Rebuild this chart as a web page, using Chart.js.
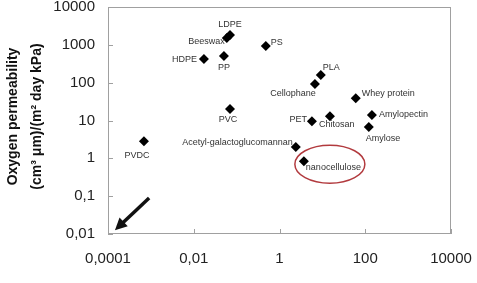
<!DOCTYPE html>
<html lang="en">

<head>
    <meta charset="UTF-8">
    <script src="https://cdn.jsdelivr.net/npm/chart.js"></script>
    <title>Oxygen permeability</title>
    <style>
        html, body {
            margin: 0;
            padding: 0;
            background: #ffffff;
        }

        .chart-box {
            position: relative;
            width: 477px;
            height: 283px;
        }
    </style>
</head>

<body>
    <div class="chart-box">
        <canvas id="permChart" width="477" height="283"></canvas>
    </div>
    <script>
        // dados
        const materials = ['LDPE', 'Beeswax', 'HDPE', 'PP', 'PVC', 'PS', 'PLA', 'Cellophane', 'Whey protein',
            'PET', 'Chitosan', 'Amylopectin', 'Amylose', 'PVDC', 'Acetyl-galactoglucomannan', 'nanocellulose'];
        const xValues = [0.070, 0.059, 0.0173, 0.0506, 0.070, 0.48, 9.2, 6.7, 60,
            5.7, 15, 143, 121, 0.00069, 2.4, 3.7];
        const oxygenPerm = [1820, 1510, 421, 506, 20, 930, 159, 92, 39,
            9.6, 13, 14, 6.7, 2.85, 1.98, 0.84];

        const xTickValues = [0.0001, 0.01, 1, 100, 10000];
        const xTickLabels = ['0,0001', '0,01', '1', '100', '10000'];
        const yTickValues = [0.01, 0.1, 1, 10, 100, 1000, 10000];
        const yTickLabels = ['0,01', '0,1', '1', '10', '100', '1000', '10000'];

        const yTitleLines = ['Oxygen permeability', '(cm³ μm)/(m² day kPa)'];

        // posição de cada rótulo em relação ao ponto
        const labelPlace = {
            'LDPE': ['center', 0, -10],
            'Beeswax': ['right', -2, 3],
            'HDPE': ['right', -7, 0],
            'PP': ['center', 0, 11],
            'PVC': ['center', -2, 10],
            'PS': ['left', 5, -4],
            'PLA': ['left', 2, -8],
            'Cellophane': ['center', -22, 9],
            'Whey protein': ['left', 6, -5],
            'PET': ['right', -5, -2],
            'Chitosan': ['left', -11, 8],
            'Amylopectin': ['left', 7, 0],
            'Amylose': ['left', -3, 11],
            'PVDC': ['center', -7, 14],
            'Acetyl-galactoglucomannan': ['right', -3, -5],
            'nanocellulose': ['left', 2, 6]
        };

        const FONT = '"Liberation Sans", Arial, sans-serif';

        const extrasPlugin = {
            id: 'extras',
            afterDatasetsDraw(chart) {
                const ctx = chart.ctx;
                const area = chart.chartArea;
                const sx = chart.scales.x;
                const sy = chart.scales.y;

                ctx.save();
                // moldura
                ctx.strokeStyle = '#a0a0a0';
                ctx.lineWidth = 1;
                ctx.strokeRect(area.left + 0.5, area.top + 0.5, area.right - area.left - 1, area.bottom - area.top - 1);

                // marcas internas
                ctx.beginPath();
                xTickValues.forEach(v => {
                    const px = Math.round(sx.getPixelForValue(v)) + 0.5;
                    ctx.moveTo(px, area.bottom);
                    ctx.lineTo(px, area.bottom - 5);
                });
                yTickValues.forEach(v => {
                    const py = Math.round(sy.getPixelForValue(v)) + 0.5;
                    ctx.moveTo(area.left, py);
                    ctx.lineTo(area.left + 5, py);
                });
                ctx.stroke();

                // rótulos dos pontos
                ctx.font = '9px ' + FONT;
                ctx.fillStyle = '#333333';
                ctx.textBaseline = 'middle';
                materials.forEach((name, i) => {
                    const p = labelPlace[name];
                    ctx.textAlign = p[0];
                    ctx.fillText(name, sx.getPixelForValue(xValues[i]) + p[1], sy.getPixelForValue(oxygenPerm[i]) + p[2]);
                });

                // elipse vermelha
                const i = materials.indexOf('nanocellulose');
                const cx = sx.getPixelForValue(xValues[i]) + 26;
                const cy = sy.getPixelForValue(oxygenPerm[i]) + 3;
                ctx.strokeStyle = '#b23a3e';
                ctx.lineWidth = 1.5;
                ctx.beginPath();
                ctx.ellipse(cx, cy, 35, 19, 0, 0, Math.PI * 2);
                ctx.stroke();

                // seta
                const x0 = sx.getPixelForValue(0.00091), y0 = sy.getPixelForValue(0.089);
                const x1 = sx.getPixelForValue(0.000145), y1 = sy.getPixelForValue(0.0126);
                const ang = Math.atan2(y1 - y0, x1 - x0);
                ctx.strokeStyle = '#111111';
                ctx.fillStyle = '#111111';
                ctx.lineWidth = 3.5;
                ctx.beginPath();
                ctx.moveTo(x0, y0);
                ctx.lineTo(x1 - 8 * Math.cos(ang), y1 - 8 * Math.sin(ang));
                ctx.stroke();
                ctx.beginPath();
                ctx.moveTo(x1, y1);
                ctx.lineTo(x1 - 12 * Math.cos(ang) + 6 * Math.sin(ang), y1 - 12 * Math.sin(ang) - 6 * Math.cos(ang));
                ctx.lineTo(x1 - 12 * Math.cos(ang) - 6 * Math.sin(ang), y1 - 12 * Math.sin(ang) + 6 * Math.cos(ang));
                ctx.closePath();
                ctx.fill();

                // título do eixo y
                ctx.fillStyle = '#111111';
                ctx.font = 'bold 14px ' + FONT;
                ctx.textAlign = 'center';
                ctx.textBaseline = 'middle';
                const midY = (area.top + area.bottom) / 2 - 4;
                ctx.translate(13, midY);
                ctx.rotate(-Math.PI / 2);
                ctx.fillText(yTitleLines[0], 0, 0);
                ctx.fillText(yTitleLines[1], 0, 24);
                ctx.restore();
            }
        };

        const ctxPerm = document.getElementById('permChart').getContext('2d');
        const permChart = new Chart(ctxPerm, {
            type: 'scatter',
            data: {
                datasets: [{
                    label: 'Materials',
                    data: xValues.map((x, i) => ({ x: x, y: oxygenPerm[i] })),
                    pointStyle: 'rectRot',
                    pointRadius: 5,
                    pointHoverRadius: 5,
                    backgroundColor: '#000000',
                    borderColor: '#000000',
                    borderWidth: 0
                }]
            },
            options: {
                responsive: false,
                animation: false,
                layout: {
                    autoPadding: false,
                    padding: { left: 0, top: 7, right: 26, bottom: 0 }
                },
                plugins: {
                    legend: { display: false },
                    tooltip: { enabled: false }
                },
                scales: {
                    x: {
                        type: 'logarithmic',
                        min: 0.0001,
                        max: 10000,
                        afterBuildTicks: scale => { scale.ticks = xTickValues.map(v => ({ value: v })); },
                        afterFit: scale => {
                            scale.height = 49;
                            scale.paddingLeft = 0;
                            scale.paddingRight = 0;
                        },
                        grid: { display: false, drawTicks: false },
                        border: { display: false },
                        ticks: {
                            padding: 16,
                            color: '#222222',
                            font: { family: FONT, size: 15 },
                            maxRotation: 0,
                            autoSkip: false,
                            callback: v => xTickLabels[xTickValues.indexOf(v)]
                        }
                    },
                    y: {
                        type: 'logarithmic',
                        min: 0.01,
                        max: 10000,
                        afterBuildTicks: scale => { scale.ticks = yTickValues.map(v => ({ value: v })); },
                        afterFit: scale => {
                            scale.width = 108;
                            scale.paddingTop = 0;
                            scale.paddingBottom = 0;
                        },
                        grid: { display: false, drawTicks: false },
                        border: { display: false },
                        ticks: {
                            padding: 13,
                            color: '#222222',
                            font: { family: FONT, size: 15 },
                            autoSkip: false,
                            callback: v => yTickLabels[yTickValues.indexOf(v)]
                        }
                    }
                }
            },
            plugins: [extrasPlugin]
        });
    </script>
</body>

</html>
